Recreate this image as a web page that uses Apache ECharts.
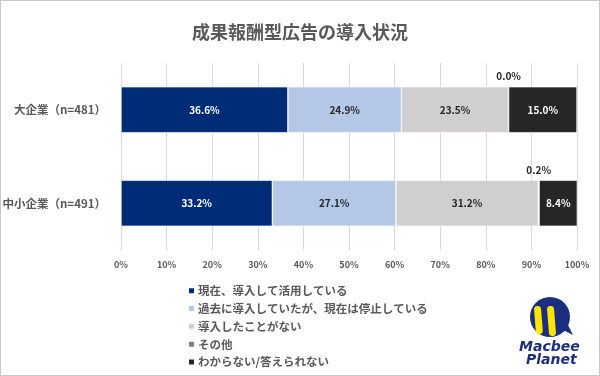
<!DOCTYPE html>
<html><head><meta charset="utf-8">
<script src="https://cdn.jsdelivr.net/npm/echarts@6/dist/echarts.min.js"></script>
<style>
html,body{margin:0;padding:0;background:#fff;}
#c{width:598px;height:374px;border:1px solid #c8c8c8;}
</style></head>
<body><div id="c"></div>
<script>
const categories = ['大企業（n=481）', '中小企業（n=491）'];
const seriesNames = ['現在、導入して活用している', '過去に導入していたが、現在は停止している', '導入したことがない', 'その他', 'わからない/答えられない'];
const current = [36.6, 33.2];
const past = [24.9, 27.1];
const never = [23.5, 31.2];
const other = [0.0, 0.2];
const unknown = [15.0, 8.4];
const xTicks = [0, 10, 20, 30, 40, 50, 60, 70, 80, 90, 100];

const colors = ['#002C77', '#B4C7E7', '#D0CECE', '#7F7F7F', '#262626'];
const labelColors = ['#ffffff', '#262626', '#262626', '#262626', '#ffffff'];
const values = [current, past, never, other, unknown];
const font = '"Noto Sans CJK JP", "Noto Sans", sans-serif';

const chart = echarts.init(document.getElementById('c'));
chart.setOption({
  animation: false,
  textStyle: {fontFamily: font},
  title: {
    text: '成果報酬型広告の導入状況', left: 'center', top: 17,
    textStyle: {fontSize: 18, fontWeight: 'bold', color: '#595959', fontFamily: font}
  },
  grid: {left: 120, right: 22, top: 62, bottom: 125, containLabel: false, outerBoundsMode: 'none'},
  xAxis: {
    type: 'value', min: 0, max: 100, interval: 10,
    axisLabel: {formatter: v => xTicks.includes(v) ? v + '%' : '', fontSize: 9, fontWeight: 'bold', color: '#595959', margin: 10},
    splitLine: {lineStyle: {color: '#D9D9D9'}},
    axisLine: {show: false}, axisTick: {show: false}
  },
  yAxis: {
    type: 'category', data: categories, inverse: true,
    axisLine: {show: false}, axisTick: {show: false},
    axisLabel: {fontSize: 11.5, fontWeight: 'bold', color: '#595959', margin: 15}
  },
  legend: {
    orient: 'vertical', left: 181, top: 279, itemWidth: 7, itemHeight: 7, itemGap: 6.3,
    icon: 'rect', data: seriesNames,
    textStyle: {fontSize: 11.5, fontWeight: 'bold', color: '#595959', fontFamily: font, padding: [0,0,0,-2]}
  },
  series: seriesNames.map((name, i) => ({
    name, type: 'bar', stack: 'total', data: values[i], barWidth: 46,
    itemStyle: {color: colors[i], borderColor: '#ffffff', borderWidth: 0.6},
    label: {
      show: true,
      position: i === 3 ? 'top' : 'inside',
      distance: 5,
      formatter: p => p.value.toFixed(1) + '%',
      color: labelColors[i], fontSize: 10, fontWeight: 'bold', fontFamily: font
    }
  })),
  graphic: [
    {type: 'polygon', shape: {points: [[560, 328], [572, 334], [566, 322]]}, style: {fill: '#1C2F7E'}},
    {type: 'circle', shape: {cx: 549, cy: 316, r: 20}, style: {fill: '#1C2F7E'}},
    {type: 'rect', rotation: 0.08, originX: 537, originY: 320, shape: {x: 534, y: 305, width: 7, height: 28, r: 3.5}, style: {fill: '#FFE600'}},
    {type: 'rect', rotation: 0.08, originX: 550, originY: 320, shape: {x: 547, y: 305, width: 7, height: 30, r: 3.5}, style: {fill: '#FFE600'}},
    {type: 'text', left: 518, top: 339, style: {text: 'Macbee', fontSize: 14, fontWeight: 'bold', fontStyle: 'italic', fill: '#1C2F7E', fontFamily: 'DejaVu Sans'}},
    {type: 'text', left: 525, top: 352, style: {text: 'Planet', fontSize: 14, fontWeight: 'bold', fontStyle: 'italic', fill: '#1C2F7E', fontFamily: 'DejaVu Sans'}}
  ]
});
</script></body></html>
